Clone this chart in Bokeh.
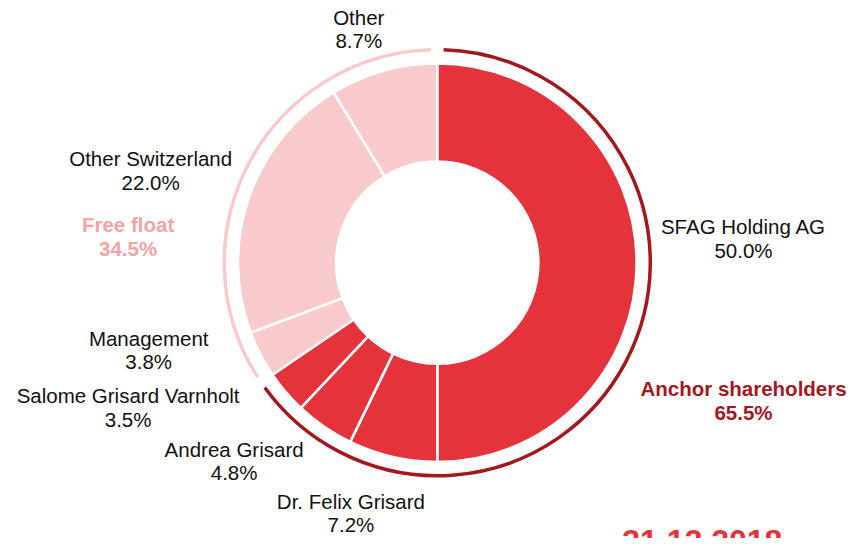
import math
from bokeh.plotting import figure
from bokeh.models import Range1d, ColumnDataSource
from bokeh.core.properties import value
from bokeh.embed import file_html
from bokeh.resources import INLINE

# ---- data ----
names = ["SFAG Holding AG", "Dr. Felix Grisard", "Andrea Grisard",
         "Salome Grisard Varnholt", "Management", "Other Switzerland", "Other"]
shares = [50.0, 7.2, 4.8, 3.5, 3.8, 22.0, 8.7]
groups = ["Anchor", "Anchor", "Anchor", "Anchor", "Free", "Free", "Free"]
group_names = ["Anchor shareholders", "Free float"]
group_keys = ["Anchor", "Free"]
date_label = "31.12.2018"

# ---- styling / layout ----
W, H = 851, 538
CX, CY = 445, -270
R_OUT, R_IN, R_ARC = 203, 103, 217
fill = {"Anchor": "#E5333B", "Free": "#F8CACC"}
arc_col = {"Anchor": "#A5171F", "Free": "#F9C9CB"}
grp_label_col = {"Anchor": "#A5171F", "Free": "#F5A3A6"}
FONT = value("Liberation Sans")
FS = "20.5px"

label_pos = {
    "SFAG Holding AG": (757, 233),
    "Dr. Felix Grisard": (357, 516),
    "Andrea Grisard": (238, 462),
    "Salome Grisard Varnholt": (130, 407),
    "Management": (151, 348),
    "Other Switzerland": (153, 163),
    "Other": (365, 17),
}
group_pos = {"Anchor": (757, 400), "Free": (130, 231)}

p = figure(width=W, height=H, output_backend="svg", toolbar_location=None,
           x_range=Range1d(0, 867), y_range=Range1d(-554, 0),
           min_border=0, outline_line_color=None)
p.axis.visible = False
p.grid.visible = False
p.background_fill_color = "white"
p.border_fill_color = "white"

# wedges (clockwise from top)
starts, ends, cols = [], [], []
cum = 0.0
for s, g in zip(shares, groups):
    a0 = math.pi / 2 - cum / 100 * 2 * math.pi
    cum += s
    a1 = math.pi / 2 - cum / 100 * 2 * math.pi
    starts.append(a0)
    ends.append(a1)
    cols.append(fill[g])
src = ColumnDataSource(dict(start=starts, end=ends, color=cols))
p.annular_wedge(x=CX, y=CY, inner_radius=R_IN, outer_radius=R_OUT,
                start_angle="start", end_angle="end", direction="clock",
                fill_color="color", line_color="white", line_width=2.5, source=src)

# outer group arcs
gap = math.radians(1.7)
cum = 0.0
for gk in group_keys:
    tot = sum(s for s, g in zip(shares, groups) if g == gk)
    a0 = math.pi / 2 - cum / 100 * 2 * math.pi - gap
    cum += tot
    a1 = math.pi / 2 - cum / 100 * 2 * math.pi + gap
    p.arc(x=CX, y=CY, radius=R_ARC, start_angle=a0, end_angle=a1,
          direction="clock", line_color=arc_col[gk], line_width=3.5)

# slice labels
LS = 24
for n, s in zip(names, shares):
    x, y = label_pos[n]
    p.text(x=[x, x], y=[-y, -(y + LS)], text=[n, f"{s:.1f}%"],
           text_font=FONT, text_font_size=FS, text_color="#111111",
           text_align="center", text_baseline="middle")

# group labels
for gk, gn in zip(group_keys, group_names):
    tot = sum(s for s, g in zip(shares, groups) if g == gk)
    x, y = group_pos[gk]
    p.text(x=[x, x], y=[-y, -(y + LS)], text=[gn, f"{tot:.1f}%"],
           text_font=FONT, text_font_size=FS, text_font_style="bold",
           text_color=grp_label_col[gk], text_align="center", text_baseline="middle")

# date (cut off at the bottom edge, as in the reference)
p.text(x=[715], y=[-545], text=[date_label], text_font=FONT, text_font_size="32px",
       text_font_style="bold", text_color="#E5333B", text_align="center",
       text_baseline="top")

open("out.html", "w").write(file_html(p, INLINE))
